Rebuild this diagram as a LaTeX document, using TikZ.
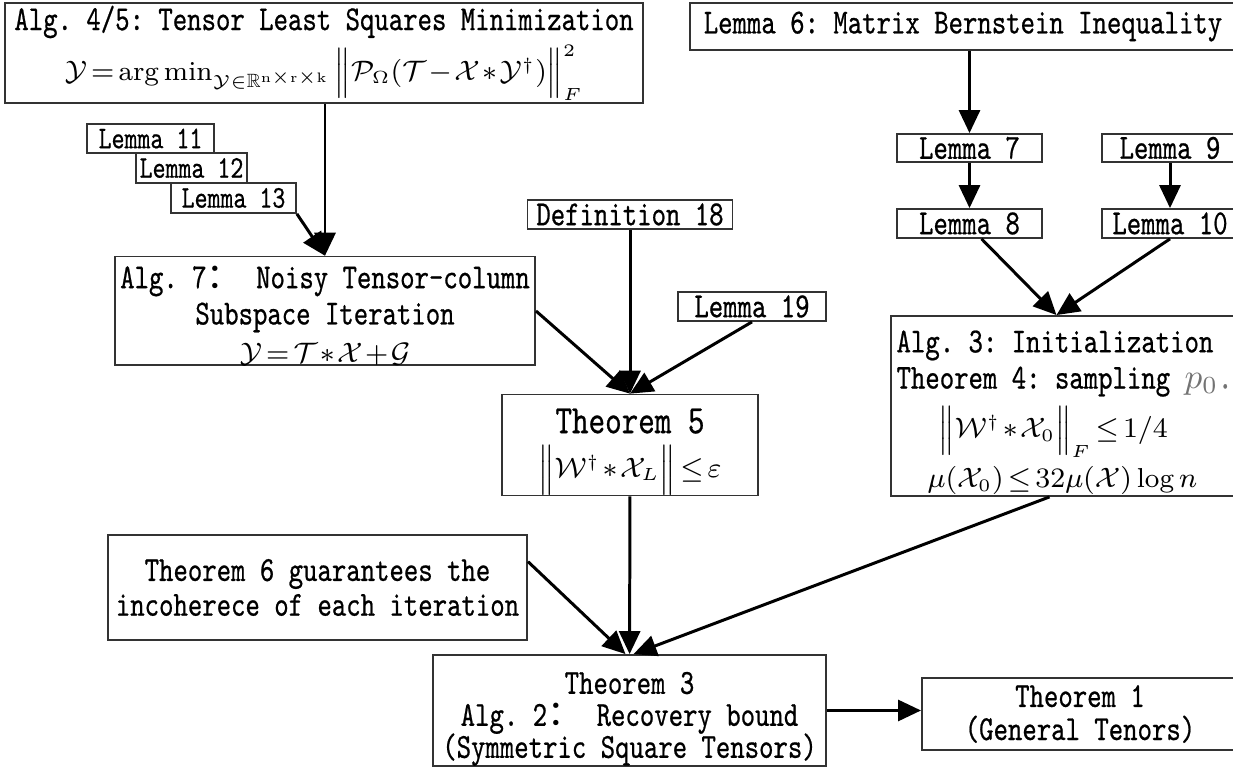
\documentclass[tikz,border=0pt]{standalone}
\usepackage{amsmath,amssymb}
\usepackage{fontspec}
\setmonofont{lmmono10-regular.otf}[FakeStretch=0.78,FakeBold=0.6]
\newfontfamily\cjk{Noto Sans CJK SC}
\usepackage{tikz}
\usetikzlibrary{arrows.meta}

\newcommand{\txt}[1]{\fontsize{#1}{#1}\selectfont}
\newcommand{\mth}[1]{{\fontsize{7.8}{8}\selectfont\medmuskip=1.5mu\thickmuskip=2.5mu$#1$}}
\newcommand{\lines}[2]{\fontsize{#1}{#2}\selectfont\setlength{\lineskiplimit}{-10pt}}

\tikzset{
  box/.style={draw=black!80, line width=0.5pt, inner sep=0pt, align=center,
    font=\ttfamily\fontsize{10}{10.3}\selectfont},
  link/.style={-{Triangle[length=0.23cm,width=0.21cm]}, line width=0.85pt}
}

\begin{document}
\begin{tikzpicture}[x=0.01cm, y=-0.01cm]
  \useasboundingbox (0,0) rectangle (1233,768);
  \clip (0,0) rectangle (1233,768);

  \node [box, minimum width=6.38cm, minimum height=1.00cm] (a45) at (324,53)
    {Alg. 4/5: Tensor Least Squares Minimization\\[1pt]
     \mth{\mathcal{Y}=\arg\min\nolimits_{\mathcal{Y}\in\mathbb{R}^{\mathrm{n\times r\times k}}}\Big\|\mathcal{P}_{\Omega}(\mathcal{T}-\mathcal{X}*\mathcal{Y}^{\dagger})\Big\|_{F}^{2}}};
  \node [box, minimum width=5.46cm, minimum height=0.47cm] (l6) at (963,26.5)
    {Lemma 6: Matrix Bernstein Inequality};

  \node [box, minimum width=1.27cm, minimum height=0.29cm, font=\ttfamily\txt{9}] (l11) at (150.5,138.5) {Lemma 11};
  \node [box, minimum width=1.11cm, minimum height=0.30cm, font=\ttfamily\txt{9}] (l12) at (191.5,168) {Lemma 12};
  \node [box, minimum width=1.25cm, minimum height=0.30cm, font=\ttfamily\txt{9}] (l13) at (233.5,198) {Lemma 13};

  \node [box, minimum width=1.45cm, minimum height=0.28cm] (l7) at (969.5,148) {Lemma 7};
  \node [box, minimum width=1.45cm, minimum height=0.29cm] (l8) at (969.5,223.5) {Lemma 8};
  \node [box, minimum width=1.36cm, minimum height=0.28cm] (l9) at (1170,148) {Lemma 9};
  \node [box, minimum width=1.36cm, minimum height=0.29cm] (l10) at (1170,223.5) {Lemma 10};

  \node [box, minimum width=2.05cm, minimum height=0.29cm] (d18) at (630,214.5) {Definition 18};
  \node [box, minimum width=1.48cm, minimum height=0.29cm] (l19) at (752,306.5) {Lemma 19};

  \node [box, minimum width=4.20cm, minimum height=0.92cm] (a7) at (325,311)
    {\rule{0pt}{9pt}Alg. 7{\cjk ：} Noisy Tensor-column\\Subspace Iteration\\[0.5pt]
     \mth{\mathcal{Y}=\mathcal{T}*\mathcal{X}+\mathcal{G}}};

  \node [box, minimum width=2.56cm, minimum height=0.98cm, font=\ttfamily\fontsize{11.5}{12.5}\selectfont] (t5) at (630,445)
    {\rule{0pt}{11pt}Theorem 5\\[0pt]
     \mth{\Big\|\mathcal{W}^{\dagger}*\mathcal{X}_{L}\Big\|\le\varepsilon}};

  \node [box, minimum width=3.47cm, minimum height=1.80cm, align=left] (a3) at (1064.5,406)
    {\rule{0pt}{10pt}Alg. 3: Initialization\\
     Theorem 4: sampling {\color{black!55}\fontsize{10}{10}\selectfont$p_{0}$.}\\[1.5pt]
     \hspace*{0.42cm}\mth{\Big\|\mathcal{W}^{\dagger}*\mathcal{X}_{0}\Big\|_{F}\le 1/4}\\[1.5pt]
     \hspace*{0.31cm}\mth{\mu(\mathcal{X}_{0})\le 32\mu(\mathcal{X})\log n}};

  \node [box, minimum width=4.19cm, minimum height=1.05cm, font=\ttfamily\lines{10}{9.9}] (t6) at (317.5,587.5)
    {Theorem 6 guarantees the\\incoherece of each iteration};
  \node [box, minimum width=3.93cm, minimum height=1.11cm, font=\ttfamily\lines{10}{9.1}] (t3) at (629.5,710.5)
    {\rule{0pt}{11pt}Theorem 3\\Alg. 2{\cjk ：} Recovery bound\\(Symmetric Square Tensors)};
  \node [box, minimum width=3.16cm, minimum height=0.72cm, font=\ttfamily\lines{10}{9.4}] (t1) at (1080,714)
    {Theorem 1\\(General Tenors)};

  \coordinate (a3in) at ([xshift=-0.08cm]a3.north);

  \draw [link] (a45.south -| a7.north) -- (a7.north);
  \draw [link] (l13.south east) -- (a7.north);

  \draw [link] (l6.south -| l7.north) -- (l7.north);
  \draw [link] (l7) -- (l8);
  \draw [link] (l9) -- (l10);
  \draw [link] ([xshift=0.12cm]l8.south) -- (a3in);
  \draw [link] (l10.south) -- (a3in);

  \draw [link] (a7.east) -- (t5.north);
  \draw [link] (d18) -- (t5);
  \draw [link] (l19.south) -- (t5.north);

  \draw [link] (t5) -- (t3);
  \draw [link] (t6.7) -- ([xshift=-0.04cm]t3.north);
  \draw [link] ([xshift=-0.15cm]a3.south) -- ([xshift=0.04cm]t3.north);
  \draw [link] (t3.east) -- (t3.east -| t1.west);
\end{tikzpicture}
\end{document}
